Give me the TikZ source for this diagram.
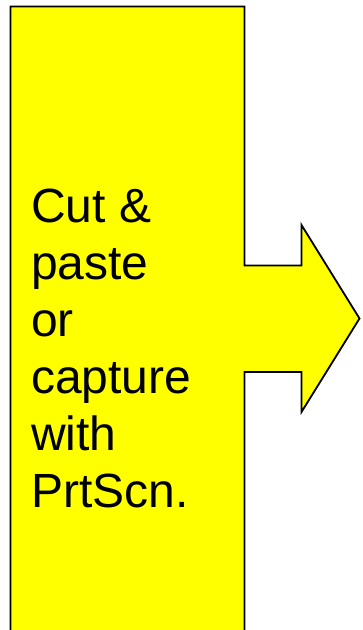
\documentclass[tikz,border=0pt]{standalone}
\usepackage{fontspec}
\setmainfont{Liberation Sans}
\begin{document}
\begin{tikzpicture}[x=1pt,y=1pt,
  shapebox/.style={fill={rgb,255:red,255;green,255;blue,0},draw=black,line width=1.8pt,line join=miter},
  txt/.style={anchor=base west,inner sep=0pt,font=\fontsize{48}{57}\selectfont}]
\useasboundingbox (0,0) rectangle (362,-630);
\begin{scope}
\clip (0,0) rectangle (362,-630);
\draw[shapebox] (10.5,-6.5) -- (244.5,-6.5) -- (244.5,-265.5) -- (301.5,-265.5) -- (301.5,-225)
  -- (359.5,-318.5) -- (301.5,-412) -- (301.5,-372) -- (244.5,-372) -- (244.5,-640) -- (10.5,-640) -- cycle;
\end{scope}
\node[txt] (l1) at (31,-222.5) {Cut \&};
\node[txt] (l2) at (31,-279.5) {paste};
\node[txt] (l3) at (31,-336.5) {or};
\node[txt] (l4) at (31,-393.5) {capture};
\node[txt] (l5) at (31,-450.5) {with};
\node[txt] (l6) at (31,-507.5) {PrtScn.};
\end{tikzpicture}
\end{document}
